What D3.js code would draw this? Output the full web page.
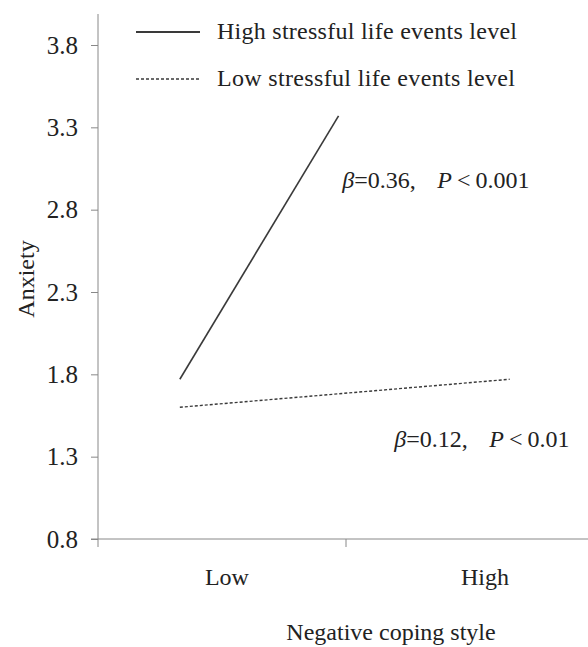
<!DOCTYPE html>
<html>
<head>
<meta charset="utf-8">
<script src="https://cdn.jsdelivr.net/npm/d3@7"></script>
<style>
  body { margin: 0; background: #fff; }
  svg text { font-family: 'Liberation Serif', 'Times New Roman', serif; fill: #222; }
</style>
</head>
<body>
<div id="chart"></div>
<script>
(function() {
  // values
  var categories = ["Low", "High"];
  var categoryX = [0.52, 1.56];
  var yTicks = [0.8, 1.3, 1.8, 2.3, 2.8, 3.3, 3.8];
  var seriesNames = ["High stressful life events level", "Low stressful life events level"];
  var highLevel = [{x: 0.33, y: 1.77}, {x: 0.97, y: 3.37}];
  var lowLevel = [{x: 0.33, y: 1.60}, {x: 1.66, y: 1.77}];
  var notes = [
    {beta: "0.36", p: "0.001", x: 0.985, y: 2.93},
    {beta: "0.12", p: "0.01", x: 1.195, y: 1.36}
  ];

  var width = 588, height = 647;
  var margin = { top: 14, left: 98, right: 0, bottom: 108 };

  var svg = d3.select("#chart")
    .append("svg")
    .attr("width", width)
    .attr("height", height);

  var xPositionScale = d3.scaleLinear()
    .domain([0, 2])
    .range([margin.left, 594]);

  var yPositionScale = d3.scaleLinear()
    .domain([0.8, 3.8])
    .range([539, 45]);

  var axisColor = "#888";
  var fontSize = 24;

  // y axis
  var yAxis = d3.axisLeft(yPositionScale)
    .tickValues(yTicks)
    .tickFormat(d3.format(".1f"))
    .tickSize(7)
    .tickPadding(13);

  var yg = svg.append("g")
    .attr("class", "axis y-axis")
    .attr("transform", "translate(" + margin.left + ",0)")
    .call(yAxis);
  yg.select(".domain").remove();
  yg.append("line")
    .attr("x1", 0).attr("x2", 0)
    .attr("y1", margin.top).attr("y2", yPositionScale(0.8) + 8)
    .attr("stroke", axisColor);
  yg.selectAll(".tick line").attr("stroke", axisColor);
  yg.selectAll(".tick text")
    .attr("font-size", fontSize + 1)
    .attr("fill", "#222");

  // x axis
  var xg = svg.append("g")
    .attr("class", "axis x-axis")
    .attr("transform", "translate(0," + yPositionScale(0.8) + ")");
  xg.append("line")
    .attr("x1", margin.left - 7).attr("x2", width)
    .attr("stroke", axisColor);
  xg.append("line")
    .attr("x1", xPositionScale(1)).attr("x2", xPositionScale(1))
    .attr("y1", 0).attr("y2", 8)
    .attr("stroke", axisColor);
  xg.selectAll(".cat")
    .data(categories)
    .enter().append("text")
    .attr("class", "cat")
    .attr("x", function(d, i) { return xPositionScale(categoryX[i]); })
    .attr("y", 46)
    .attr("text-anchor", "middle")
    .attr("font-size", fontSize)
    .text(function(d) { return d; });

  svg.append("text")
    .attr("x", 391)
    .attr("y", 640)
    .attr("text-anchor", "middle")
    .attr("font-size", fontSize)
    .text("Negative coping style");

  svg.append("text")
    .attr("transform", "translate(34,279) rotate(-90)")
    .attr("text-anchor", "middle")
    .attr("font-size", fontSize)
    .text("Anxiety");

  // lines
  var line = d3.line()
    .x(function(d) { return xPositionScale(d.x); })
    .y(function(d) { return yPositionScale(d.y); });

  svg.append("path")
    .datum(highLevel)
    .attr("d", line)
    .attr("fill", "none")
    .attr("stroke", "#3a3a3a")
    .attr("stroke-width", 1.6);

  svg.append("path")
    .datum(lowLevel)
    .attr("d", line)
    .attr("fill", "none")
    .attr("stroke", "#3a3a3a")
    .attr("stroke-width", 1.4)
    .attr("stroke-dasharray", "3,2");

  // legend
  var legend = svg.append("g").attr("class", "legend");
  var legendItems = legend.selectAll("g")
    .data(seriesNames)
    .enter().append("g")
    .attr("transform", function(d, i) { return "translate(136," + (32 + i * 47) + ")"; });
  legendItems.append("line")
    .attr("x1", 0).attr("x2", 64)
    .attr("stroke", "#3a3a3a")
    .attr("stroke-width", function(d, i) { return i === 0 ? 2.2 : 1.4; })
    .attr("stroke-dasharray", function(d, i) { return i === 0 ? null : "3,2"; });
  legendItems.append("text")
    .attr("x", 81)
    .attr("y", 7)
    .attr("font-size", fontSize)
    .attr("textLength", function(d, i) { return i === 0 ? 300 : 298; })
    .attr("lengthAdjust", "spacing")
    .text(function(d) { return d; });

  // slope notes
  var noteText = svg.selectAll(".note")
    .data(notes)
    .enter().append("text")
    .attr("class", "note")
    .attr("x", function(d) { return xPositionScale(d.x); })
    .attr("y", function(d) { return yPositionScale(d.y); })
    .attr("font-size", fontSize);
  noteText.append("tspan").attr("font-style", "italic").text("β");
  noteText.append("tspan").text(function(d) { return "=" + d.beta + ","; });
  noteText.append("tspan")
    .attr("x", function(d) { return xPositionScale(d.x) + 95; })
    .attr("font-style", "italic")
    .text("P");
  noteText.append("tspan").attr("dx", 5).text("<");
  noteText.append("tspan").attr("dx", 5).text(function(d) { return d.p; });
})();
</script>
</body>
</html>
